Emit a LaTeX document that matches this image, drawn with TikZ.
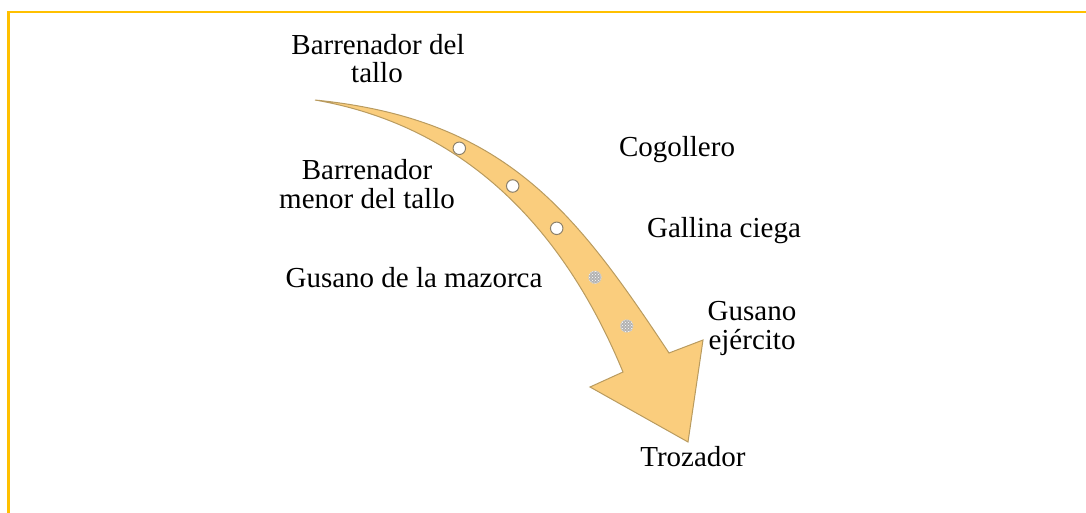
\documentclass[tikz,border=0pt]{standalone}
\usepackage{fontspec}
\setmainfont{Liberation Serif}
\usetikzlibrary{patterns}
\definecolor{gold}{HTML}{FFC000}
\definecolor{arrowfill}{RGB}{250,205,125}
\definecolor{arrowline}{RGB}{185,155,95}
\definecolor{holeline}{RGB}{140,128,105}
\begin{document}
\begin{tikzpicture}[x=1pt,y=-1pt,
  lbl/.style={font=\fontsize{29}{29}\selectfont, inner sep=0pt, anchor=base},
  hole/.style={circle, draw=holeline, fill=white, line width=1pt, minimum size=12.5pt, inner sep=0pt},
  speck/.style={circle, draw=gray!35, densely dotted, line width=1pt, fill=gray!60,
    postaction={pattern=crosshatch dots, pattern color=white}, minimum size=12.5pt, inner sep=0pt},
  frame/.style={draw=gold, line width=2.2pt},
  arrowbody/.style={fill=arrowfill, draw=arrowline, line width=1pt, line join=miter}]
\useasboundingbox (0,0) rectangle (1086,513);
\draw[frame] (8.5,513) -- (8.5,12) -- (1086,12);
% arrow
\coordinate (tail) at (315,100);
\coordinate (rn) at (669,353);
\coordinate (rb) at (703,340);
\coordinate (tip) at (688,442);
\coordinate (lb) at (590,387);
\coordinate (ln) at (623,372);
\filldraw[arrowbody] (tail) .. controls (505,119) and (575,211) .. (rn) -- (rb) -- (tip) -- (lb) -- (ln) .. controls (566,234) and (470,127) .. (tail) -- cycle;
% holes
\node[hole] (h1) at (459.3,148.3) {};
\node[hole] (h2) at (512.7,186) {};
\node[hole] (h3) at (556.7,228.3) {};
\node[speck] (h4) at (595,277.3) {};
\node[speck] (h5) at (626.7,326) {};
% labels
\node[lbl] (bt1) at (378,55) {Barrenador del};
\node[lbl] (bt2) at (377,83) {tallo};
\node[lbl] (bm1) at (367,179) {Barrenador};
\node[lbl] (bm2) at (367,208) {menor del tallo};
\node[lbl] (gm) at (414,287) {Gusano de la mazorca};
\node[lbl] (cg) at (677,157) {Cogollero};
\node[lbl] (gc) at (724,237) {Gallina ciega};
\node[lbl] (ge1) at (752,320) {Gusano};
\node[lbl] (ge2) at (752,349) {ejército};
\node[lbl] (tz) at (693,466) {Trozador};
\end{tikzpicture}
\end{document}
